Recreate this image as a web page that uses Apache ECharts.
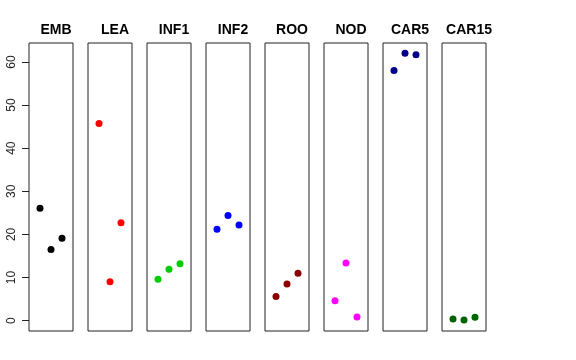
<!DOCTYPE html>
<html><head><meta charset="utf-8">
<script src="https://cdn.jsdelivr.net/npm/echarts@6/dist/echarts.min.js"></script>
<style>html,body{margin:0;padding:0;background:#fff}#c{width:576px;height:360px}</style>
</head><body><div id="c"></div>
<script>
const categories = ["EMB","LEA","INF1","INF2","ROO","NOD","CAR5","CAR15"];
const colors = ["#000000","#FF0000","#00CD00","#0000FF","#8B0000","#FF00FF","#00008B","#006400"];
const valEMB = [26.1, 16.5, 19.1];
const valLEA = [45.7, 9.0, 22.7];
const valINF1 = [9.6, 11.9, 13.2];
const valINF2 = [21.2, 24.4, 22.2];
const valROO = [5.6, 8.5, 11.0];
const valNOD = [4.6, 13.4, 0.85];
const valCAR5 = [58.0, 62.0, 61.7];
const valCAR15 = [0.4, 0.15, 0.77];
const yTicks = [0, 10, 20, 30, 40, 50, 60];
const allVals = [valEMB, valLEA, valINF1, valINF2, valROO, valNOD, valCAR5, valCAR15];

const grids = [], xAxes = [], yAxes = [], series = [], titles = [];
categories.forEach((name, i) => {
  const left = 29 + 59 * i;
  grids.push({left: left, top: 43, width: 44, height: 288, show: true, borderColor: '#222', borderWidth: 1, backgroundColor: 'transparent'});
  xAxes.push({type: 'value', gridIndex: i, min: 0, max: 4, show: false});
  yAxes.push({type: 'value', gridIndex: i, min: -2.4, max: 64.4,
    show: i === 0,
    axisLine: {show: false},
    splitLine: {show: false},
    axisTick: {show: i === 0, length: 7, customValues: yTicks, lineStyle: {color: '#222'}},
    axisLabel: {show: i === 0, rotate: 90, margin: 11, customValues: yTicks, color: '#222', fontSize: 12, fontFamily: 'Liberation Sans, Arial, sans-serif'}
  });
  series.push({type: 'scatter', xAxisIndex: i, yAxisIndex: i, symbolSize: 7,
    itemStyle: {color: colors[i], opacity: 1},
    data: allVals[i].map((v, j) => [j + 1, v]), silent: true});
  titles.push({text: name, left: left + 22, top: 18, textAlign: 'center',
    textStyle: {fontSize: 14, fontWeight: 'bold', color: '#000', fontFamily: 'Liberation Sans, Arial, sans-serif'}});
});

const chart = echarts.init(document.getElementById('c'), null, {renderer: 'canvas'});
chart.setOption({
  animation: false,
  title: titles,
  grid: grids,
  xAxis: xAxes,
  yAxis: yAxes,
  series: series
});
</script></body></html>
